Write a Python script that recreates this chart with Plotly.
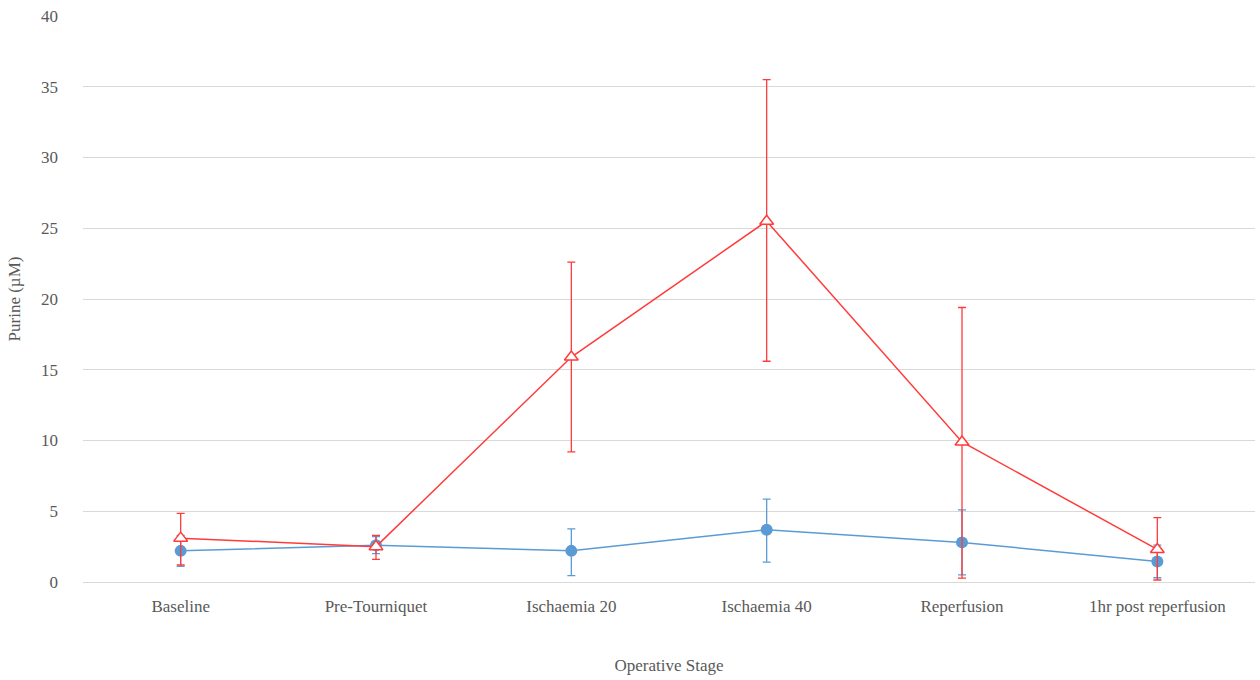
import plotly.graph_objects as go

stages = ["Baseline", "Pre-Tourniquet", "Ischaemia 20", "Ischaemia 40",
          "Reperfusion", "1hr post reperfusion"]

# Series A (blue circles): mean with upper / lower error bar limits
blue_mean = [2.2, 2.6, 2.2, 3.7, 2.8, 1.45]
blue_upper = [3.3, 3.2, 3.75, 5.85, 5.1, 2.6]
blue_lower = [1.1, 2.0, 0.45, 1.4, 0.5, 0.3]

# Series B (red triangles): mean with upper / lower error bar limits
red_mean = [3.1, 2.5, 15.9, 25.5, 9.9, 2.3]
red_upper = [4.85, 3.3, 22.6, 35.5, 19.4, 4.55]
red_lower = [1.2, 1.6, 9.2, 15.6, 0.27, 0.14]

y_ticks = [0, 5, 10, 15, 20, 25, 30, 35, 40]

BLUE = "#5B9BD5"
RED = "#FF3B3B"
TEXT = "#595959"
FONT = "Liberation Serif"


def err(mean, upper, lower):
    return dict(
        type="data",
        symmetric=False,
        array=[u - m for u, m in zip(upper, mean)],
        arrayminus=[m - l for m, l in zip(mean, lower)],
        thickness=1.3,
        width=4,
    )


fig = go.Figure()

fig.add_trace(go.Scatter(
    x=stages, y=blue_mean, mode="lines+markers",
    line=dict(color=BLUE, width=1.5),
    marker=dict(symbol="circle", size=12, color=BLUE),
    error_y=dict(color=BLUE, **err(blue_mean, blue_upper, blue_lower)),
    showlegend=False,
))

fig.add_trace(go.Scatter(
    x=stages, y=red_mean, mode="lines+markers",
    line=dict(color=RED, width=1.5),
    marker=dict(symbol="triangle-up", size=12, color="white",
                line=dict(color=RED, width=1.5)),
    error_y=dict(color=RED, **err(red_mean, red_upper, red_lower)),
    showlegend=False,
))

fig.update_layout(
    width=1260, height=680,
    margin=dict(l=83, r=5, t=16, b=98),
    paper_bgcolor="white", plot_bgcolor="white",
    font=dict(family=FONT, color=TEXT, size=17),
    xaxis=dict(
        type="category", range=[-0.5, 5.5],
        showgrid=False, zeroline=False, showline=False,
        ticks="", ticklabelstandoff=12,
        tickfont=dict(family=FONT, size=17, color=TEXT),
        title=dict(text="Operative Stage", standoff=44,
                   font=dict(family=FONT, size=17, color=TEXT)),
    ),
    yaxis=dict(
        range=[0, 40], tickvals=y_ticks,
        showgrid=True, gridcolor="#D9D9D9", gridwidth=1,
        zeroline=True, zerolinecolor="#D9D9D9", zerolinewidth=1,
        showline=False, ticks="", ticklabelstandoff=24,
        tickfont=dict(family=FONT, size=17, color=TEXT),
        title=dict(text="Purine (µM)", standoff=16,
                   font=dict(family=FONT, size=17, color=TEXT)),
    ),
)

fig.write_html("out.html")
